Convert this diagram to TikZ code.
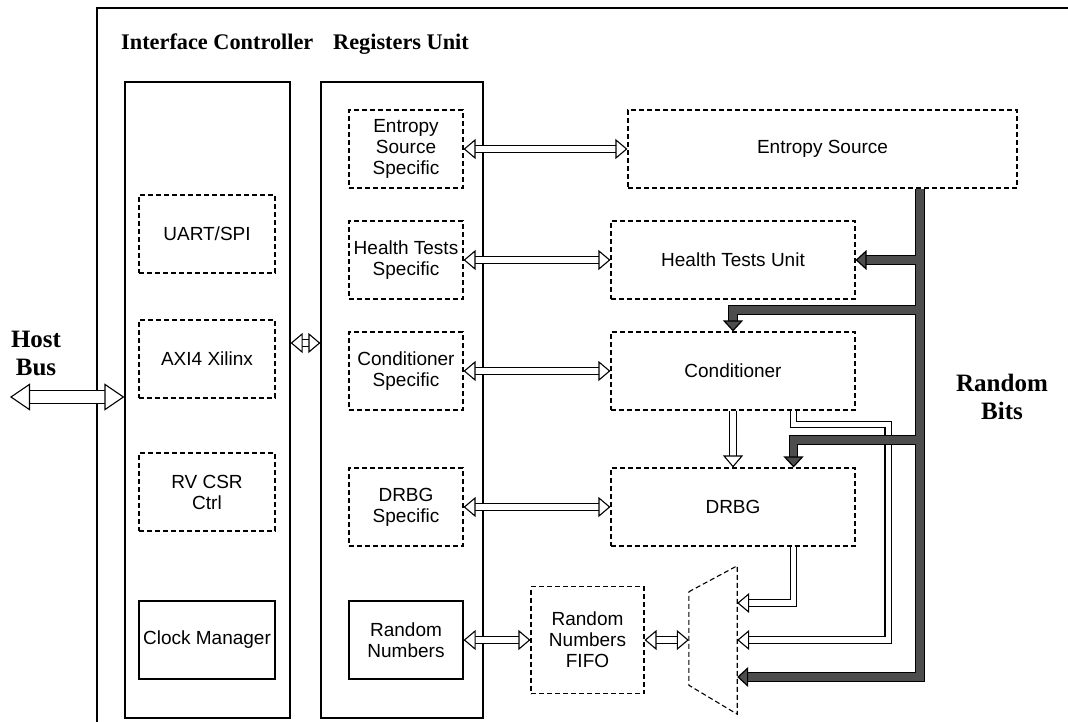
\documentclass[tikz,border=0pt]{standalone}
\usepackage{fontspec}
\setmainfont{Liberation Sans}
\newfontfamily\headfont{Liberation Serif}
\usepackage{tikz}
\usetikzlibrary{arrows.meta, calc}
\definecolor{busgray}{HTML}{4D4D4D}

\begin{document}
\begin{tikzpicture}[
    x=1pt, y=-1pt,
    column/.style={rectangle, draw, line width=1.2pt, minimum width=#1, minimum height=636pt, inner sep=0pt},
    ddash/.style={line width=1.1pt, dash pattern=on 5pt off 3pt},
    blk/.style={rectangle, draw, ddash, minimum width=#1, minimum height=78pt, inner sep=1pt, align=center, font=\fontsize{19}{21}\selectfont},
    solidblk/.style={blk=#1, solid, line width=1.2pt},
    head/.style={inner sep=0pt, font=\headfont\bfseries\fontsize{22.3}{26}\selectfont},
    side/.style={inner sep=0pt, align=center, font=\headfont\bfseries\fontsize{25}{28}\selectfont},
    link/.style={double=white, double distance=5.4pt, line width=1.1pt, >={Triangle[width=20pt, length=12pt, line width=1.1pt, fill=white]}},
    hostlink/.style={link, double distance=11.5pt, >={Triangle[width=27pt, length=20pt, line width=1.1pt, fill=white]}},
    bus/.style={double=busgray, double distance=7.4pt, line width=1.2pt, ->, >={Triangle[width=20pt, length=11pt, line width=1.2pt, fill=busgray]}},
    branch/.style={bus, shorten <=3.7pt}
]
    \useasboundingbox (0,0) rectangle (1068,722);
    \draw[line width=1.2pt] (97,722) |- (1068,8);

    % column headings
    \node[head, anchor=base west] (ic-title) at (121,50) {Interface Controller};
    \node[head, anchor=base west] (reg-title) at (333,50) {Registers Unit};

    % Interface controller column
    \node[column=165pt] (ic) at (207.5,400) {};
    \node[blk=136pt] (uart) at (207,234) {UART/SPI};
    \node[blk=136pt] (axi) at (207,359) {AXI4 Xilinx};
    \node[blk=136pt] (csr) at (207,492) {RV CSR\\Ctrl};
    \node[solidblk=136pt] (clk) at (207,640) {Clock Manager};

    % Registers unit column
    \node[column=162pt] (reg) at (402,400) {};
    \node[blk=114pt] (es-spec) at (406,149) {Entropy\\Source\\Specific};
    \node[blk=114pt] (ht-spec) at (406,260) {Health Tests\\Specific};
    \node[blk=114pt] (cond-spec) at (406,371) {Conditioner\\Specific};
    \node[blk=114pt] (drbg-spec) at (406,507) {DRBG\\Specific};
    \node[solidblk=114pt] (rn) at (406,640) {Random\\Numbers};

    % datapath
    \node[blk=389pt] (es) at (822.5,149) {Entropy Source};
    \node[blk=244pt] (htu) at (733,260) {Health Tests Unit};
    \node[blk=244pt] (cond) at (733,371) {Conditioner};
    \node[blk=244pt] (drbg) at (733,507) {DRBG};
    \node[blk=113pt, minimum height=107pt] (fifo) at (587.5,640) {Random\\Numbers\\FIFO};
    \node[minimum width=48pt, minimum height=148pt, inner sep=0pt] (mux) at (713,640) {};
    \draw[ddash] ([yshift=-26pt]mux.north west) -- (mux.north east) -- (mux.south east) -- ([yshift=29pt]mux.south west) -- cycle;

    % side labels
    \node[side] (host) at (36,353) {Host\\Bus};
    \node[side] (rbits) at (1002,397) {Random\\Bits};

    \coordinate (hostend) at (10,397);
    \coordinate (bus) at (es.south -| 920,0);

    % register links
    \draw[hostlink, <->] (hostend) -- (ic.west |- hostend);
    \draw[link, <->] (ic.east |- 0,343) -- (reg.west |- 0,343);
    \draw[link, <->] (es-spec.east) -- (es.west);
    \draw[link, <->] (ht-spec.east) -- (htu.west);
    \draw[link, <->] (cond-spec.east) -- (cond.west);
    \draw[link, <->] (drbg-spec.east) -- (drbg.west);
    \draw[link, <->] (rn.east) -- (fifo.west);
    \draw[link, <->] (fifo.east) -- (mux.west);

    % data links
    \draw[link, ->] (cond) -- (drbg);
    \draw[link, ->] ($(cond.south east)+(-62,0)$) -- ++(0,14) -| ($(mux.east)+(151,0)$) -- (mux.east);
    \draw[link, ->] ($(drbg.south east)+(-62,0)$) |- ($(mux.east)+(0,-37)$);

    % random bits bus
    \draw[bus] (bus) |- ($(mux.east)+(0,37)$);
    \draw[branch] (htu.east -| bus) -- (htu.east);
    \draw[branch] (bus |- 0,310) -| (cond.north);
    \draw[branch] (bus |- 0,440) -| ($(drbg.north east)+(-62,0)$);
\end{tikzpicture}
\end{document}
